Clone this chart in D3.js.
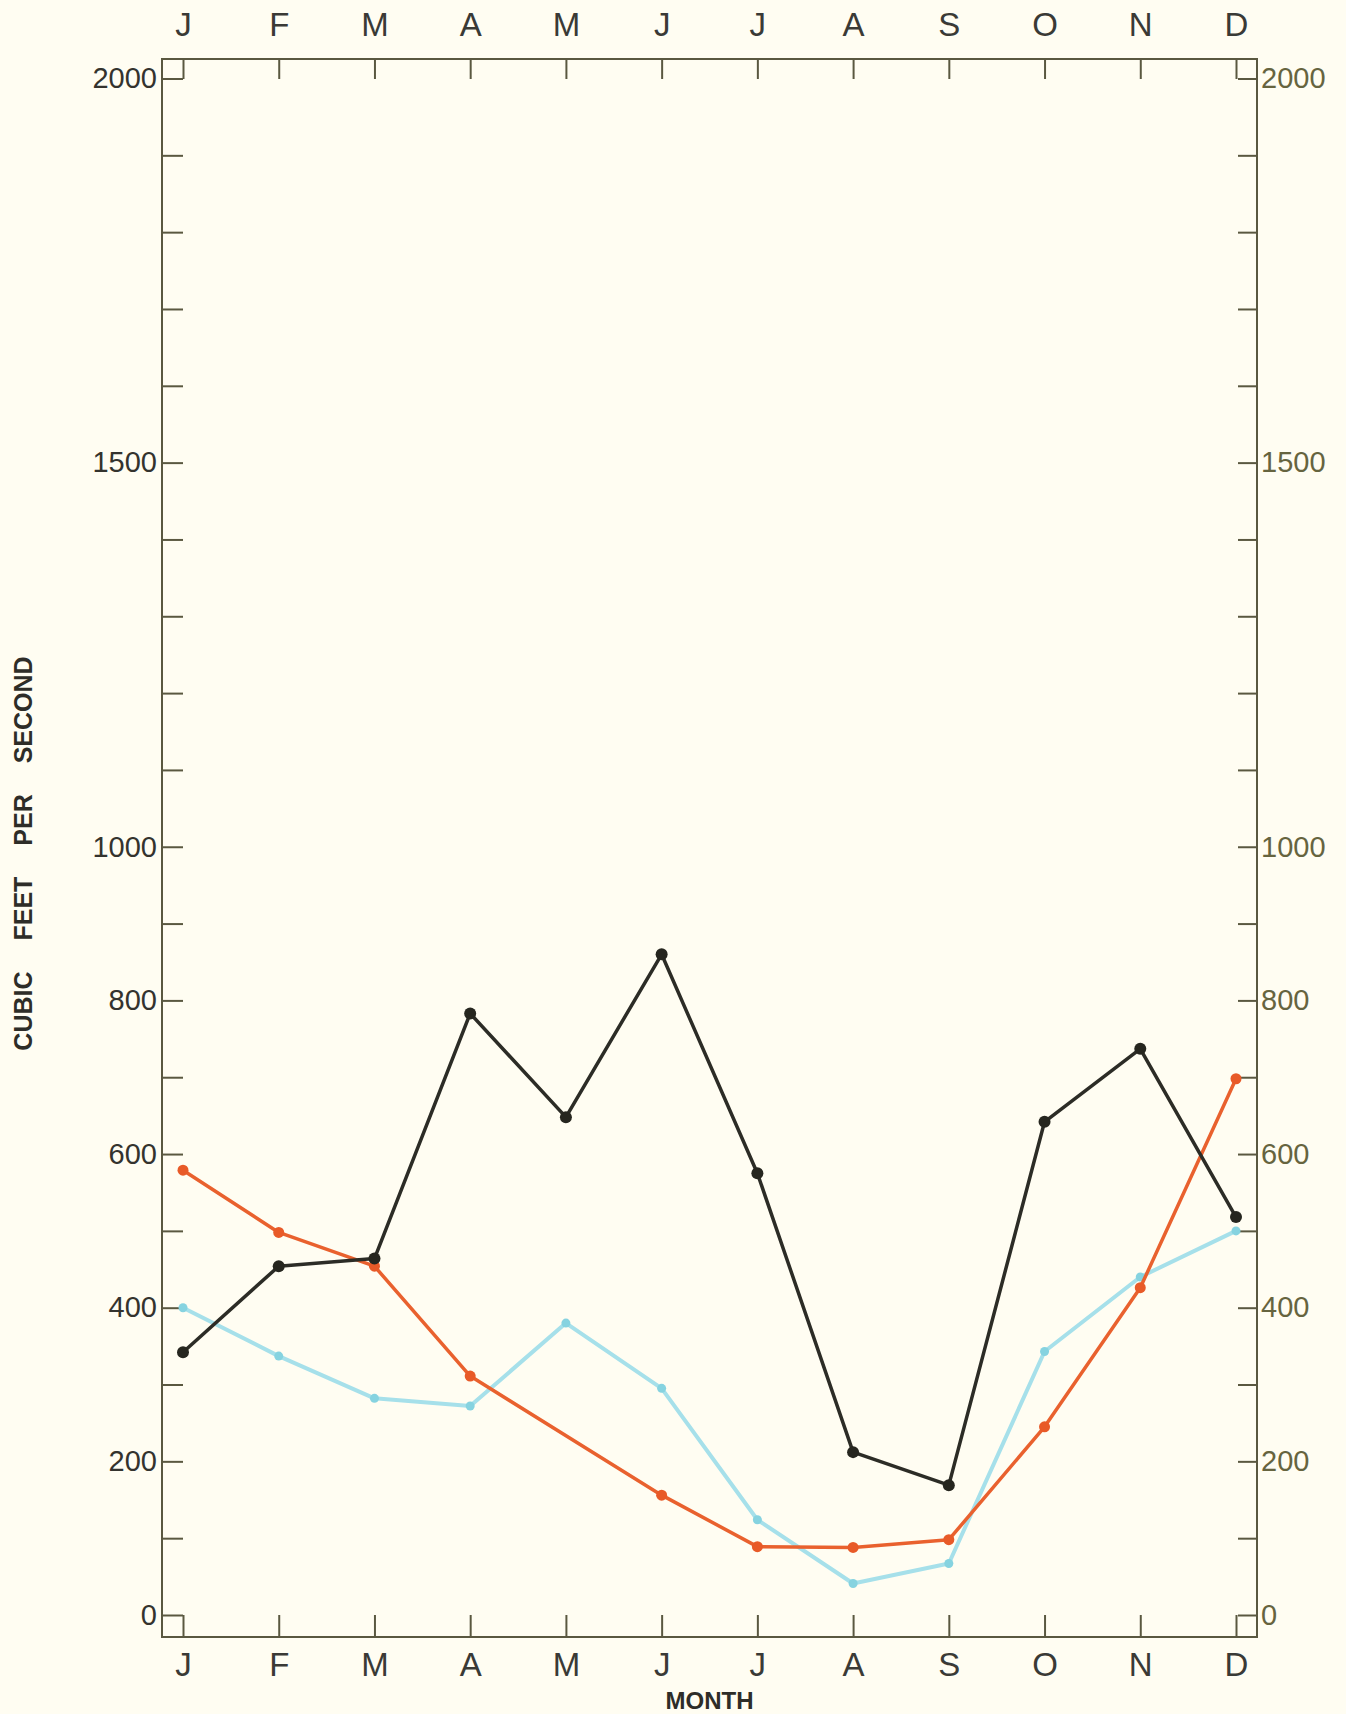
<!DOCTYPE html>
<html>
<head>
<meta charset="utf-8">
<script src="https://cdn.jsdelivr.net/npm/d3@7"></script>
<style>
  html, body { margin: 0; padding: 0; background: #fffdf2; }
  svg { display: block; }
  .lbl { font-family: "Liberation Sans", Arial, sans-serif; }
</style>
</head>
<body>
<div id="chart"></div>
<script>
// month initials
const months = ["J", "F", "M", "A", "M", "J", "J", "A", "S", "O", "N", "D"];

// discharge, cubic feet per second
const darkSeries = [342, 454, 464, 783, 648, 860, 575, 212, 169, 642, 737, 518];
const orangeSeries = [579, 498, 454, 311, null, 156, 89, 88, 98, 245, 426, 698];
const cyanSeries = [400, 337, 282, 272, 380, 295, 124, 41, 67, 343, 440, 500];

// y ticks every 100, labelled only at these
const yTicks = d3.range(0, 2001, 100);
const yLabels = [0, 200, 400, 600, 800, 1000, 1500, 2000];

const width = 1346, height = 1714;
const frame = {left: 162, right: 1257, top: 59, bottom: 1637};

const svg = d3.select("#chart").append("svg")
    .attr("width", width)
    .attr("height", height);

svg.append("rect")
    .attr("width", width)
    .attr("height", height)
    .attr("fill", "#fffdf2");

const x = d3.scaleLinear().domain([0, months.length - 1]).range([183, 1236]);
const y = d3.scaleLinear().domain([0, 2000]).range([1615, 78.5]);

const frameColor = "#5a5840";
const fmtY = d => yLabels.includes(d) ? String(d) : "";

function styleAxis(g, color, size) {
    g.select(".domain").remove();
    g.selectAll(".tick line")
        .attr("stroke", frameColor)
        .attr("stroke-width", 2);
    g.selectAll(".tick text")
        .attr("class", "lbl")
        .attr("fill", color)
        .style("font-size", size + "px");
}

// top month axis
svg.append("g")
    .attr("transform", `translate(0,${frame.top})`)
    .call(d3.axisTop(x).tickValues(d3.range(12)).tickFormat(i => months[i])
        .tickSizeInner(-20).tickSizeOuter(0).tickPadding(23))
    .call(g => styleAxis(g, "#3a3a36", 33));

// bottom month axis
svg.append("g")
    .attr("transform", `translate(0,${frame.bottom})`)
    .call(d3.axisBottom(x).tickValues(d3.range(12)).tickFormat(i => months[i])
        .tickSizeInner(-22).tickSizeOuter(0).tickPadding(16))
    .call(g => styleAxis(g, "#3a3a36", 33));

// left value axis
svg.append("g")
    .attr("transform", `translate(${frame.left},0)`)
    .call(d3.axisLeft(y).tickValues(yTicks).tickFormat(fmtY)
        .tickSizeInner(-21).tickSizeOuter(0).tickPadding(5))
    .call(g => styleAxis(g, "#34332e", 29));

// right value axis
svg.append("g")
    .attr("transform", `translate(${frame.right},0)`)
    .call(d3.axisRight(y).tickValues(yTicks).tickFormat(fmtY)
        .tickSizeInner(-19).tickSizeOuter(0).tickPadding(4))
    .call(g => styleAxis(g, "#66643f", 29));

svg.append("rect")
    .attr("x", frame.left)
    .attr("y", frame.top)
    .attr("width", frame.right - frame.left)
    .attr("height", frame.bottom - frame.top)
    .attr("fill", "none")
    .attr("stroke", frameColor)
    .attr("stroke-width", 2);

// series, drawn light to dark
const series = [
    {values: cyanSeries, line: "#a6e0ea", dot: "#86d3e0", width: 4, r: 4.5},
    {values: orangeSeries, line: "#e9612e", dot: "#e85a28", width: 3.5, r: 5.5},
    {values: darkSeries, line: "#2c2c26", dot: "#26261f", width: 3.5, r: 6}
];

const line = d3.line()
    .x(d => x(d.i))
    .y(d => y(d.v));

series.forEach(s => {
    const pts = s.values.map((v, i) => ({i, v})).filter(d => d.v != null);
    const g = svg.append("g");
    g.append("path")
        .datum(pts)
        .attr("d", line)
        .attr("fill", "none")
        .attr("stroke", s.line)
        .attr("stroke-width", s.width)
        .attr("stroke-linejoin", "round");
    g.selectAll("circle")
        .data(pts)
        .join("circle")
        .attr("cx", d => x(d.i))
        .attr("cy", d => y(d.v))
        .attr("r", s.r)
        .attr("fill", s.dot);
});

// axis titles
svg.append("text")
    .attr("class", "lbl")
    .attr("transform", `translate(32,${(657 + 1050) / 2}) rotate(-90)`)
    .attr("text-anchor", "middle")
    .attr("fill", "#2e2d28")
    .style("font-size", "25px")
    .style("font-weight", "bold")
    .style("word-spacing", "24px")
    .text("CUBIC FEET PER SECOND");

svg.append("text")
    .attr("class", "lbl")
    .attr("x", (x(0) + x(11)) / 2)
    .attr("y", 1709)
    .attr("text-anchor", "middle")
    .attr("fill", "#2e2d28")
    .style("font-size", "24px")
    .style("font-weight", "bold")
    .text("MONTH");
</script>
</body>
</html>
